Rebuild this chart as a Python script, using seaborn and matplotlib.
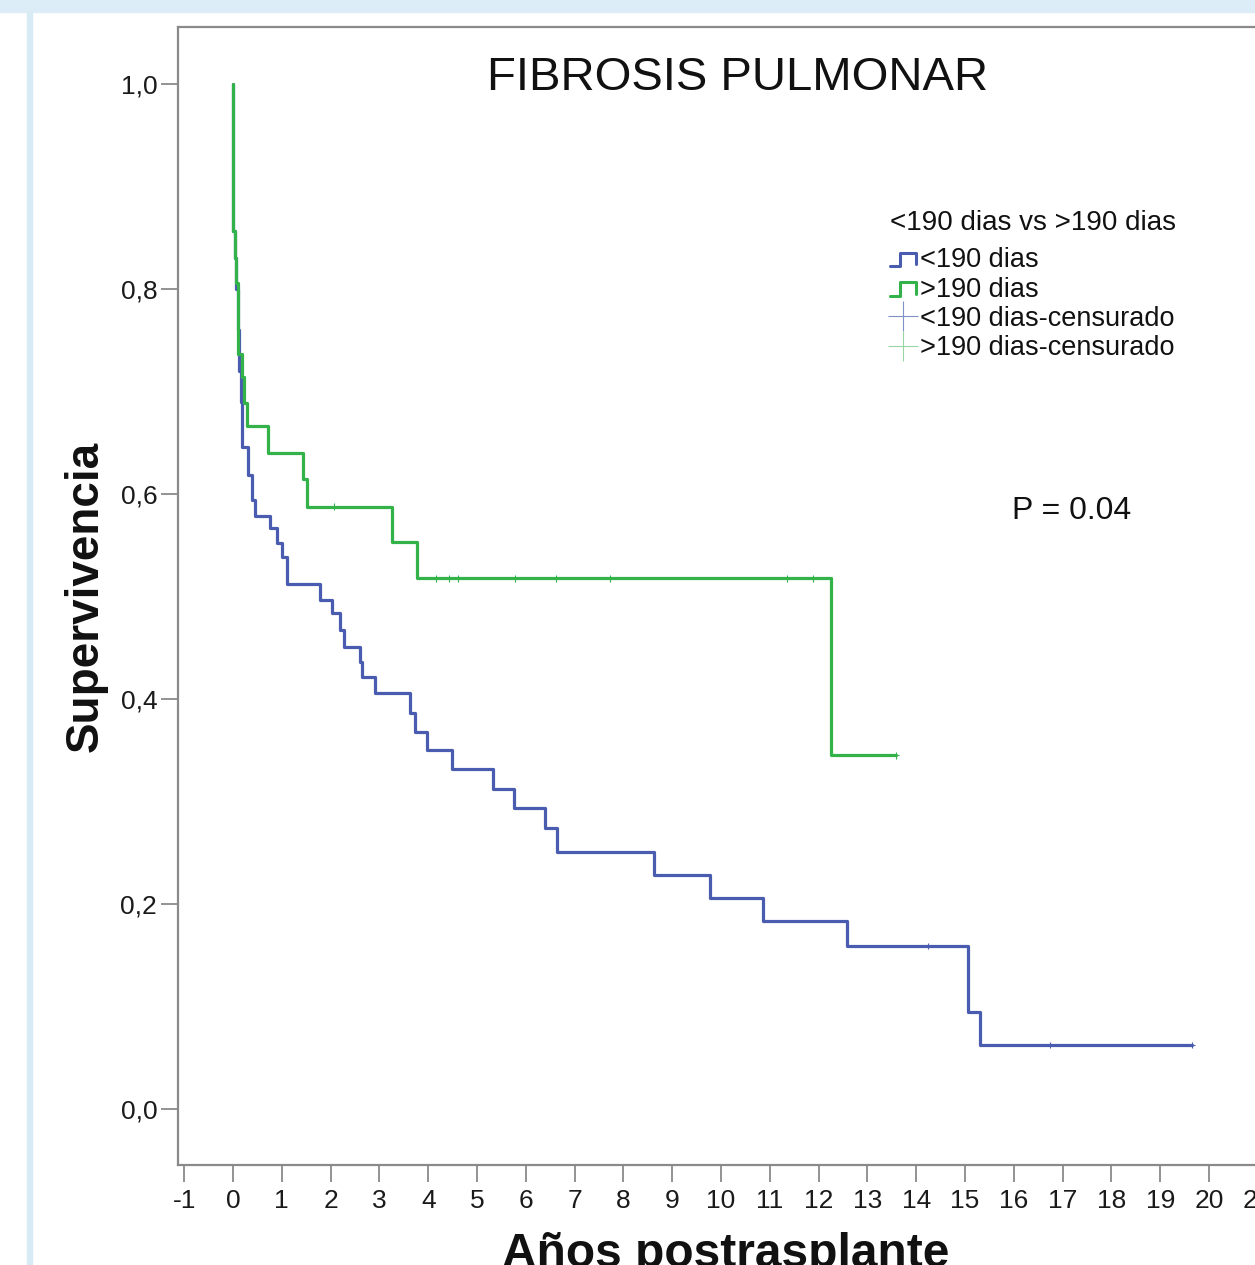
import numpy as np
import pandas as pd
import matplotlib
matplotlib.use("Agg")
import matplotlib.pyplot as plt
import seaborn as sns
from matplotlib.legend_handler import HandlerBase
from matplotlib.lines import Line2D
from matplotlib.patches import Rectangle

# ---------------- data ----------------
grupos = ["<190 dias", ">190 dias"]

t_menor = [0.0, 0.01, 0.04, 0.07, 0.10, 0.13, 0.16, 0.19, 0.31, 0.38, 0.45, 0.76,
           0.895, 1.01, 1.10, 1.78, 2.035, 2.19, 2.28, 2.60, 2.64, 2.91, 3.63,
           3.73, 3.97, 4.48, 5.33, 5.76, 6.39, 6.64, 8.63, 9.77, 10.86, 12.58,
           15.06, 15.31, 19.65]
s_menor = [1.0, 0.857, 0.83, 0.80, 0.76, 0.72, 0.69, 0.646, 0.619, 0.594, 0.5785,
           0.5665, 0.552, 0.539, 0.512, 0.4966, 0.4836, 0.4673, 0.451, 0.4364,
           0.4218, 0.4055, 0.386, 0.368, 0.350, 0.332, 0.312, 0.2937, 0.274,
           0.2507, 0.228, 0.206, 0.183, 0.159, 0.0946, 0.0624, 0.0624]

t_mayor = [0.0, 0.01, 0.04, 0.07, 0.109, 0.178, 0.225, 0.28, 0.72, 1.43, 1.51,
           3.25, 3.78, 12.25, 13.59]
s_mayor = [1.0, 0.857, 0.83, 0.806, 0.737, 0.714, 0.689, 0.666, 0.640, 0.615,
           0.5876, 0.5535, 0.5177, 0.345, 0.345]

cens_menor = [14.24, 16.74, 19.65]
cens_mayor = [2.06, 4.15, 4.42, 4.61, 5.78, 6.62, 7.72, 11.36, 11.89, 13.59]

y_ticks = [0.0, 0.2, 0.4, 0.6, 0.8, 1.0]
y_ticklabels = ["0,0", "0,2", "0,4", "0,6", "0,8", "1,0"]
x_ticks = list(range(-1, 22))

titulo = "FIBROSIS PULMONAR"
leyenda_titulo = "<190 dias vs >190 dias"
etiquetas = ["<190 dias", ">190 dias", "<190 dias-censurado", ">190 dias-censurado"]
texto_p = "P = 0.04"

azul = "#4a5cb0"
verde = "#33b24a"

# ---------------- frames ----------------
def km_frame(t, s, g):
    return pd.DataFrame({"tiempo": t, "supervivencia": s, "grupo": g})

def cens_frame(tc, t, s, g):
    idx = np.searchsorted(np.array(t), np.array(tc), side="right") - 1
    return pd.DataFrame({"tiempo": tc, "supervivencia": np.array(s)[idx], "grupo": g})

df = pd.concat([km_frame(t_menor, s_menor, grupos[0]),
                km_frame(t_mayor, s_mayor, grupos[1])], ignore_index=True)
dfc = pd.concat([cens_frame(cens_menor, t_menor, s_menor, grupos[0]),
                 cens_frame(cens_mayor, t_mayor, s_mayor, grupos[1])], ignore_index=True)

# ---------------- figure ----------------
sns.set_theme(style="white")
plt.rcParams["font.family"] = ["Liberation Sans", "DejaVu Sans"]

W, H = 1255, 1265
fig = plt.figure(figsize=(W / 100, H / 100), dpi=100)

# decorative frame of the screenshot
fig.patches.append(Rectangle((0, 1 - 12 / H), 1, 12 / H, transform=fig.transFigure,
                             color="#dcedf7", zorder=0))
fig.patches.append(Rectangle((27 / W, 0), 5 / W, 1 - 12 / H, transform=fig.transFigure,
                             color="#d8ebf4", zorder=0))

px_per_year = 48.8
x0_px = 233.0
left_px, right_px = 178.0, 1272.4
top_px, bot_px = 27.0, 1165.0
ax = fig.add_axes([left_px / W, 1 - bot_px / H, (right_px - left_px) / W, (bot_px - top_px) / H])

palette = {grupos[0]: azul, grupos[1]: verde}
sns.lineplot(data=df, x="tiempo", y="supervivencia", hue="grupo", hue_order=grupos,
             palette=palette, estimator=None, sort=False, drawstyle="steps-post",
             linewidth=2.3, legend=False, ax=ax)
sns.scatterplot(data=dfc, x="tiempo", y="supervivencia", hue="grupo", hue_order=grupos,
                palette=palette, marker="+", s=22, linewidth=0.8, legend=False, ax=ax,
                zorder=3)

ax.set_xlim((left_px - x0_px) / px_per_year, (right_px - x0_px) / px_per_year)
ax.set_ylim(-(bot_px - 1109) / 1025, (1109 - top_px) / 1025)

ax.set_xticks(x_ticks)
ax.set_xticklabels([str(v) for v in x_ticks])
ax.set_yticks(y_ticks)
ax.set_yticklabels(y_ticklabels)

for sp in ax.spines.values():
    sp.set_color("#8a8a8a")
    sp.set_linewidth(1.6)

ax.tick_params(axis="both", which="major", direction="out", length=12, width=1.3,
               color="#8a8a8a", labelsize=19, labelcolor="#1a1a1a", pad=3,
               bottom=True, left=True, top=False, right=False)
ax.tick_params(axis="x", pad=5)

ax.set_xlabel("Años postrasplante", fontsize=34.5, fontweight="bold", labelpad=14,
              color="#111111")
ax.set_ylabel("Supervivencia", fontsize=33, fontweight="bold", labelpad=9,
              color="#111111")

ax.text(0.5117, 0.955, titulo, transform=ax.transAxes, ha="center", va="center",
        fontsize=34, color="#111111")
ax.text(0.762, 0.5747, texto_p, transform=ax.transAxes, ha="left", va="center",
        fontsize=23, color="#111111")


class StepHandler(HandlerBase):
    def create_artists(self, legend, orig_handle, xdescent, ydescent, width, height,
                       fontsize, trans):
        xs = np.array([0.0, 0.38, 0.38, 1.0, 1.0]) * width - xdescent
        ys = np.array([0.05, 0.05, 0.75, 0.75, 0.15]) * height - ydescent
        ln = Line2D(xs, ys, color=orig_handle.get_color(), lw=2.2, transform=trans)
        return [ln]


h1 = Line2D([], [], color=azul)
h2 = Line2D([], [], color=verde)
h3 = Line2D([], [], color="#8090c8", marker="+", ls="none", markersize=21, mew=0.8)
h4 = Line2D([], [], color="#9ad6a4", marker="+", ls="none", markersize=21, mew=0.8)
leg = ax.legend([h1, h2, h3, h4], etiquetas, title=leyenda_titulo,
                handler_map={h1: StepHandler(), h2: StepHandler()},
                loc="upper left", bbox_to_anchor=(0.6506, 0.839), frameon=False,
                fontsize=19.5, title_fontsize=20, alignment="left",
                handlelength=0.95, handletextpad=0.15, labelspacing=0.12,
                borderpad=0, borderaxespad=0)
for txt in leg.get_texts():
    txt.set_color("#111111")
leg.get_title().set_color("#111111")
leg._legend_box.sep = 8

fig.savefig("out.png", dpi=100)
